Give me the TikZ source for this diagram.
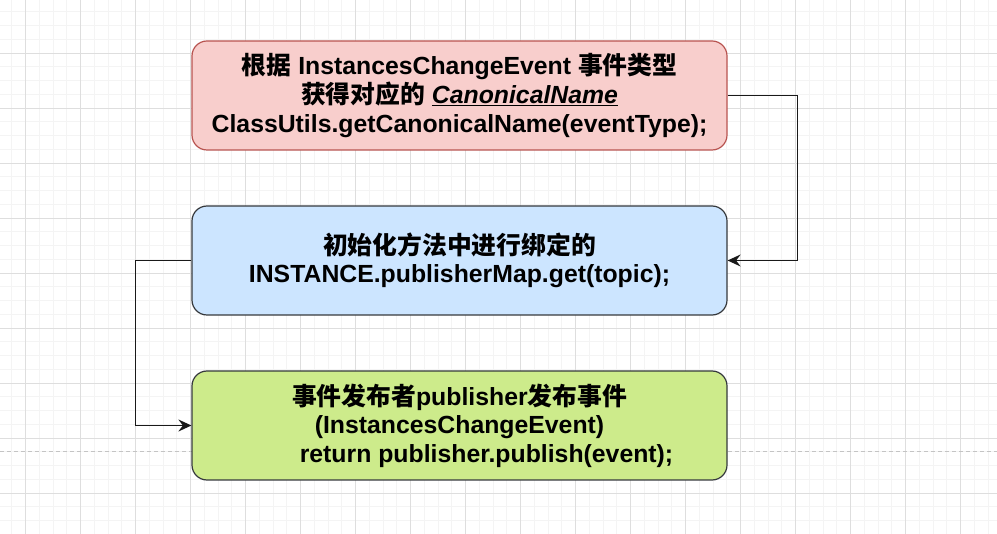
\documentclass[tikz,border=0pt]{standalone}
\usepackage{fontspec}
\setmainfont{Liberation Sans}
\newfontfamily\cjk{Noto Sans CJK SC Bold}
\usetikzlibrary{arrows.meta}
\definecolor{minorgrid}{HTML}{F4F4F4}
\definecolor{majorgrid}{HTML}{DEDEDE}
\definecolor{redfill}{HTML}{F8CECC}
\definecolor{redline}{HTML}{B85450}
\definecolor{bluefill}{HTML}{CCE5FF}
\definecolor{greenfill}{HTML}{CDEB8B}
\definecolor{darkline}{HTML}{36393D}
\definecolor{pageline}{HTML}{C4C4C4}
\tikzset{
  box/.style={draw, rounded corners=15pt, line width=1.2pt, minimum width=535pt,
    minimum height=109pt, inner sep=0pt, align=center,
    font=\fontsize{24.8}{28.6}\selectfont\bfseries},
  conn/.style={draw=black!90, line width=1.5pt, -{Stealth[length=13pt,width=12pt,inset=4.5pt]}},
  minorl/.style={draw=minorgrid, line width=0.9pt},
  majorl/.style={draw=majorgrid, line width=0.9pt},
}
\begin{document}
\begin{tikzpicture}[x=1pt,y=-1pt]
\useasboundingbox (0,0) rectangle (997,534);
\fill[white] (0,0) rectangle (997,534);
\begin{scope}
\clip (0,0) rectangle (997,534);
\foreach \i in {-2,...,73} \draw[minorl] ({25.5+13.75*\i},0) -- ({25.5+13.75*\i},534);
\foreach \j in {-1,...,40} \draw[minorl] (0,{-2+13.75*\j}) -- (997,{-2+13.75*\j});
\foreach \i in {0,...,18} \draw[majorl] ({25.5+55*\i},0) -- ({25.5+55*\i},534);
\foreach \j in {0,...,10} \draw[majorl] (0,{-2+55*\j}) -- (997,{-2+55*\j});
\end{scope}
\draw[pageline, line width=0.9pt, dash pattern=on 4pt off 3pt] (0,451) -- (997,451);

\node[box, fill=redfill, draw=redline] (red) at (459.5,95.5)
  {{\cjk 根据} InstancesChangeEvent {\cjk 事件类型}\\
   {\cjk 获得对应的} \underline{\textit{CanonicalName}}\\
   ClassUtils.getCanonicalName(eventType);};
\node[box, fill=bluefill, draw=darkline] (blue) at (459.5,260.5)
  {{\cjk 初始化方法中进行绑定的}\\
   INSTANCE.publisherMap.get(topic);};
\node[box, fill=greenfill, draw=darkline] (green) at (459.5,425.5)
  {{\cjk 事件发布者}publisher{\cjk 发布事件}\\
   (InstancesChangeEvent)\\
   \hspace*{54pt}return publisher.publish(event);};

\draw[conn] (red.east) -- ++(70,0) |- (blue.east);
\draw[conn] (blue.west) -- ++(-56,0) |- (green.west);
\end{tikzpicture}
\end{document}
